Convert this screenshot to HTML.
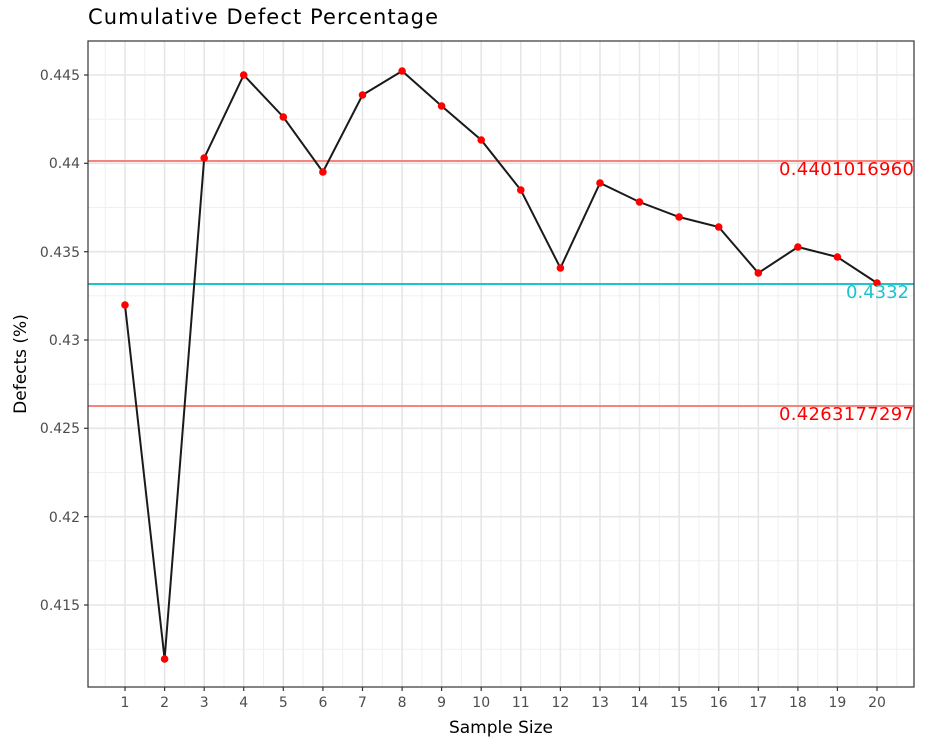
<!DOCTYPE html>
<html><head><style>
body{margin:0;background:#fff;}
svg text{font-family:"DejaVu Sans",sans-serif;}
</style></head><body>
<svg width="939" height="749" xmlns="http://www.w3.org/2000/svg">
<rect width="939" height="749" fill="#fff"/>
<g stroke="#f0f0f0" stroke-width="1">
<line x1="88" x2="914" y1="119.2" y2="119.2"/><line x1="88" x2="914" y1="207.5" y2="207.5"/><line x1="88" x2="914" y1="295.8" y2="295.8"/><line x1="88" x2="914" y1="384.2" y2="384.2"/><line x1="88" x2="914" y1="472.5" y2="472.5"/><line x1="88" x2="914" y1="560.8" y2="560.8"/><line x1="88" x2="914" y1="649.2" y2="649.2"/>
<line y1="41" y2="687" x1="105.2" x2="105.2"/><line y1="41" y2="687" x1="144.8" x2="144.8"/><line y1="41" y2="687" x1="184.4" x2="184.4"/><line y1="41" y2="687" x1="224" x2="224"/><line y1="41" y2="687" x1="263.5" x2="263.5"/><line y1="41" y2="687" x1="303.1" x2="303.1"/><line y1="41" y2="687" x1="342.7" x2="342.7"/><line y1="41" y2="687" x1="382.3" x2="382.3"/><line y1="41" y2="687" x1="421.9" x2="421.9"/><line y1="41" y2="687" x1="461.4" x2="461.4"/><line y1="41" y2="687" x1="501" x2="501"/><line y1="41" y2="687" x1="540.6" x2="540.6"/><line y1="41" y2="687" x1="580.2" x2="580.2"/><line y1="41" y2="687" x1="619.8" x2="619.8"/><line y1="41" y2="687" x1="659.3" x2="659.3"/><line y1="41" y2="687" x1="698.9" x2="698.9"/><line y1="41" y2="687" x1="738.5" x2="738.5"/><line y1="41" y2="687" x1="778.1" x2="778.1"/><line y1="41" y2="687" x1="817.7" x2="817.7"/><line y1="41" y2="687" x1="857.2" x2="857.2"/><line y1="41" y2="687" x1="896.8" x2="896.8"/>
</g>
<g stroke="#e6e6e6" stroke-width="1.6">
<line x1="88" x2="914" y1="75" y2="75"/><line x1="88" x2="914" y1="163.3" y2="163.3"/><line x1="88" x2="914" y1="251.7" y2="251.7"/><line x1="88" x2="914" y1="340" y2="340"/><line x1="88" x2="914" y1="428.3" y2="428.3"/><line x1="88" x2="914" y1="516.7" y2="516.7"/><line x1="88" x2="914" y1="605" y2="605"/>
<line y1="41" y2="687" x1="125" x2="125"/><line y1="41" y2="687" x1="164.6" x2="164.6"/><line y1="41" y2="687" x1="204.2" x2="204.2"/><line y1="41" y2="687" x1="243.7" x2="243.7"/><line y1="41" y2="687" x1="283.3" x2="283.3"/><line y1="41" y2="687" x1="322.9" x2="322.9"/><line y1="41" y2="687" x1="362.5" x2="362.5"/><line y1="41" y2="687" x1="402.1" x2="402.1"/><line y1="41" y2="687" x1="441.6" x2="441.6"/><line y1="41" y2="687" x1="481.2" x2="481.2"/><line y1="41" y2="687" x1="520.8" x2="520.8"/><line y1="41" y2="687" x1="560.4" x2="560.4"/><line y1="41" y2="687" x1="600" x2="600"/><line y1="41" y2="687" x1="639.5" x2="639.5"/><line y1="41" y2="687" x1="679.1" x2="679.1"/><line y1="41" y2="687" x1="718.7" x2="718.7"/><line y1="41" y2="687" x1="758.3" x2="758.3"/><line y1="41" y2="687" x1="797.9" x2="797.9"/><line y1="41" y2="687" x1="837.4" x2="837.4"/><line y1="41" y2="687" x1="877" x2="877"/>
</g>
<line x1="88" x2="914" y1="161" y2="161" stroke="#f8837a" stroke-width="2"/>
<line x1="88" x2="914" y1="406" y2="406" stroke="#f8837a" stroke-width="2"/>
<line x1="88" x2="914" y1="284" y2="284" stroke="#1ec4cc" stroke-width="2"/>
<polyline fill="none" stroke="#1a1a1a" stroke-width="2" points="125,305 164.6,659 204.2,158 243.7,75 283.3,117 322.9,172 362.5,95 402.1,71 441.6,106 481.2,140 520.8,190 560.4,268 600,183 639.5,202 679.1,217 718.7,227 758.3,273 797.9,247 837.4,257 877,283"/>
<g fill="#f00">
<circle cx="125" cy="305" r="3.8"/><circle cx="164.6" cy="659" r="3.8"/><circle cx="204.2" cy="158" r="3.8"/><circle cx="243.7" cy="75" r="3.8"/><circle cx="283.3" cy="117" r="3.8"/><circle cx="322.9" cy="172" r="3.8"/><circle cx="362.5" cy="95" r="3.8"/><circle cx="402.1" cy="71" r="3.8"/><circle cx="441.6" cy="106" r="3.8"/><circle cx="481.2" cy="140" r="3.8"/><circle cx="520.8" cy="190" r="3.8"/><circle cx="560.4" cy="268" r="3.8"/><circle cx="600" cy="183" r="3.8"/><circle cx="639.5" cy="202" r="3.8"/><circle cx="679.1" cy="217" r="3.8"/><circle cx="718.7" cy="227" r="3.8"/><circle cx="758.3" cy="273" r="3.8"/><circle cx="797.9" cy="247" r="3.8"/><circle cx="837.4" cy="257" r="3.8"/><circle cx="877" cy="283" r="3.8"/>
</g>
<text x="914" y="175" text-anchor="end" font-size="18" textLength="135" fill="#f00">0.4401016960</text>
<text x="914" y="420" text-anchor="end" font-size="18" textLength="135" fill="#f00">0.4263177297</text>
<text x="909" y="298" text-anchor="end" font-size="18" fill="#1ec4cc">0.4332</text>
<rect x="88" y="41" width="826" height="646" fill="none" stroke="#333" stroke-width="1.2"/>
<g stroke="#333" stroke-width="1.2">
<line x1="84" x2="88" y1="75" y2="75"/><line x1="84" x2="88" y1="163.3" y2="163.3"/><line x1="84" x2="88" y1="251.7" y2="251.7"/><line x1="84" x2="88" y1="340" y2="340"/><line x1="84" x2="88" y1="428.3" y2="428.3"/><line x1="84" x2="88" y1="516.7" y2="516.7"/><line x1="84" x2="88" y1="605" y2="605"/>
</g>
<g font-size="14" fill="#4d4d4d" text-anchor="end">
<text x="80" y="80">0.445</text><text x="80" y="168">0.44</text><text x="80" y="257">0.435</text><text x="80" y="345">0.43</text><text x="80" y="433">0.425</text><text x="80" y="522">0.42</text><text x="80" y="610">0.415</text>
</g>
<g stroke="#333" stroke-width="1.2">
<line y1="687" y2="691" x1="125" x2="125"/><line y1="687" y2="691" x1="164.6" x2="164.6"/><line y1="687" y2="691" x1="204.2" x2="204.2"/><line y1="687" y2="691" x1="243.7" x2="243.7"/><line y1="687" y2="691" x1="283.3" x2="283.3"/><line y1="687" y2="691" x1="322.9" x2="322.9"/><line y1="687" y2="691" x1="362.5" x2="362.5"/><line y1="687" y2="691" x1="402.1" x2="402.1"/><line y1="687" y2="691" x1="441.6" x2="441.6"/><line y1="687" y2="691" x1="481.2" x2="481.2"/><line y1="687" y2="691" x1="520.8" x2="520.8"/><line y1="687" y2="691" x1="560.4" x2="560.4"/><line y1="687" y2="691" x1="600" x2="600"/><line y1="687" y2="691" x1="639.5" x2="639.5"/><line y1="687" y2="691" x1="679.1" x2="679.1"/><line y1="687" y2="691" x1="718.7" x2="718.7"/><line y1="687" y2="691" x1="758.3" x2="758.3"/><line y1="687" y2="691" x1="797.9" x2="797.9"/><line y1="687" y2="691" x1="837.4" x2="837.4"/><line y1="687" y2="691" x1="877" x2="877"/>
</g>
<g font-size="14" fill="#4d4d4d" text-anchor="middle">
<text x="125" y="707">1</text><text x="164.6" y="707">2</text><text x="204.2" y="707">3</text><text x="243.7" y="707">4</text><text x="283.3" y="707">5</text><text x="322.9" y="707">6</text><text x="362.5" y="707">7</text><text x="402.1" y="707">8</text><text x="441.6" y="707">9</text><text x="481.2" y="707">10</text><text x="520.8" y="707">11</text><text x="560.4" y="707">12</text><text x="600" y="707">13</text><text x="639.5" y="707">14</text><text x="679.1" y="707">15</text><text x="718.7" y="707">16</text><text x="758.3" y="707">17</text><text x="797.9" y="707">18</text><text x="837.4" y="707">19</text><text x="877" y="707">20</text>
</g>
<text x="501" y="733" text-anchor="middle" font-size="17" fill="#000">Sample Size</text>
<text transform="translate(26,364) rotate(-90)" text-anchor="middle" font-size="17" fill="#000">Defects (%)</text>
<text x="88" y="24" font-size="21" textLength="350" fill="#000">Cumulative Defect Percentage</text>
</svg>
</body></html>
